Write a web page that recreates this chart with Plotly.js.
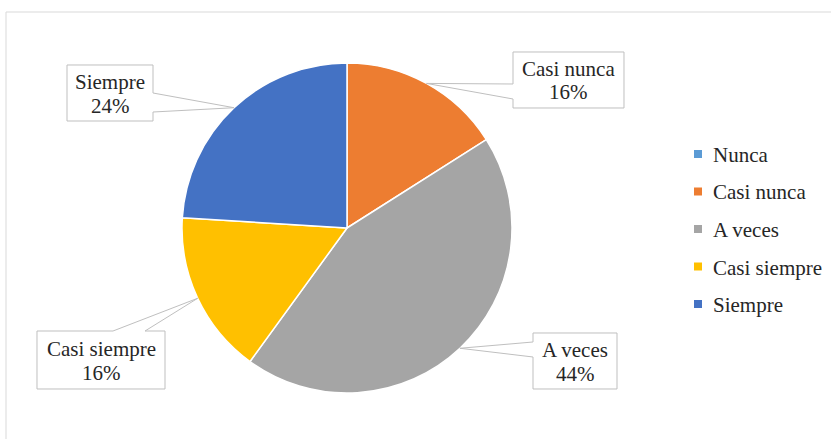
<!DOCTYPE html>
<html>
<head>
<meta charset="utf-8">
<script src="https://cdn.plot.ly/plotly-3.0.1.min.js"></script>
<style>html,body{margin:0;padding:0;background:#fff;}#chart{width:831px;height:439px;}</style>
</head>
<body>
<div id="chart"></div>
<script>
// ---- data ----
const categories = ['Nunca', 'Casi nunca', 'A veces', 'Casi siempre', 'Siempre'];
const percents = [0, 16, 44, 16, 24];
const colors = ['#5B9BD5', '#ED7D31', '#A5A5A5', '#FFC000', '#4472C4'];

// ---- layout constants (pixels) ----
const W = 831, H = 439;
const CX = 347, CY = 228, R = 165;
const FONT = 'Liberation Serif';
const TXT = '#262626';
// callout boxes: [x0, y0, x1, y1], wedge side and base positions
const callouts = {
  'Casi nunca':   {box: [513, 52, 624, 108], side: 'left',  base: [84, 99]},
  'A veces':      {box: [533, 333, 617, 389], side: 'left', base: [342, 357]},
  'Casi siempre': {box: [37, 331, 165, 389], side: 'top',   base: [113, 145]},
  'Siempre':      {box: [67, 65, 153, 121], side: 'right',  base: [93, 112]}
};

const px = x => x / W;
const py = y => 1 - y / H;
const P = (x, y) => px(x).toFixed(5) + ',' + py(y).toFixed(5);

const total = percents.reduce((a, b) => a + b, 0);
const shapes = [];
const annotations = [];

// outer chart border
shapes.push({type: 'rect', xref: 'paper', yref: 'paper', x0: px(6), x1: px(W + 10), y0: py(H + 10), y1: py(12),
  line: {color: '#D9D9D9', width: 1}, fillcolor: 'rgba(0,0,0,0)', layer: 'below'});

let cum = 0;
categories.forEach((cat, i) => {
  const v = percents[i];
  const mid = (cum + v / 2) / total;
  cum += v;
  const c = callouts[cat];
  if (!c || v === 0) return;
  const a = 2 * Math.PI * mid;
  const tx = CX + R * Math.sin(a), ty = CY - R * Math.cos(a);
  const [x0, y0, x1, y1] = c.box;
  const [b1, b2] = c.base;
  let path;
  if (c.side === 'left') {
    path = `M${P(x0,y0)} L${P(x1,y0)} L${P(x1,y1)} L${P(x0,y1)} L${P(x0,b2)} L${P(tx,ty)} L${P(x0,b1)} Z`;
  } else if (c.side === 'right') {
    path = `M${P(x0,y0)} L${P(x1,y0)} L${P(x1,b1)} L${P(tx,ty)} L${P(x1,b2)} L${P(x1,y1)} L${P(x0,y1)} Z`;
  } else {
    path = `M${P(x0,y0)} L${P(b1,y0)} L${P(tx,ty)} L${P(b2,y0)} L${P(x1,y0)} L${P(x1,y1)} L${P(x0,y1)} Z`;
  }
  shapes.push({type: 'path', xref: 'paper', yref: 'paper', path: path,
    line: {color: '#BFBFBF', width: 1}, fillcolor: '#FFFFFF', layer: 'above'});
  const bx = (x0 + x1) / 2, by = (y0 + y1) / 2;
  [[cat, by - 11], [v + '%', by + 12.5]].forEach(([t, yy]) => {
    annotations.push({xref: 'paper', yref: 'paper', x: px(bx), y: py(yy),
      xanchor: 'center', yanchor: 'middle', showarrow: false, align: 'center',
      text: t, font: {family: FONT, size: 21, color: TXT}});
  });
});

// manual legend
const legX = 694, legY0 = 154, legStep = 37.5, sq = 8;
categories.forEach((cat, i) => {
  const y = legY0 + i * legStep;
  shapes.push({type: 'rect', xref: 'paper', yref: 'paper', x0: px(legX), x1: px(legX + sq),
    y0: py(y + sq / 2), y1: py(y - sq / 2), line: {width: 0}, fillcolor: colors[i]});
  annotations.push({xref: 'paper', yref: 'paper', x: px(711), y: py(y + 1),
    xanchor: 'left', yanchor: 'middle', showarrow: false, text: cat,
    font: {family: FONT, size: 21, color: TXT}});
});

const trace = {
  type: 'pie',
  labels: categories,
  values: percents,
  sort: false,
  direction: 'clockwise',
  rotation: 0,
  textinfo: 'none',
  hoverinfo: 'label+percent',
  marker: {colors: colors, line: {color: '#FFFFFF', width: 1.5}},
  domain: {x: [px(CX - R), px(CX + R)], y: [py(CY + R), py(CY - R)]},
  showlegend: false
};

const layout = {
  width: W, height: H,
  margin: {l: 0, r: 0, t: 0, b: 0},
  paper_bgcolor: '#FFFFFF',
  showlegend: false,
  shapes: shapes,
  annotations: annotations,
  font: {family: FONT}
};

Plotly.newPlot('chart', [trace], layout, {displayModeBar: false});
</script>
</body>
</html>
